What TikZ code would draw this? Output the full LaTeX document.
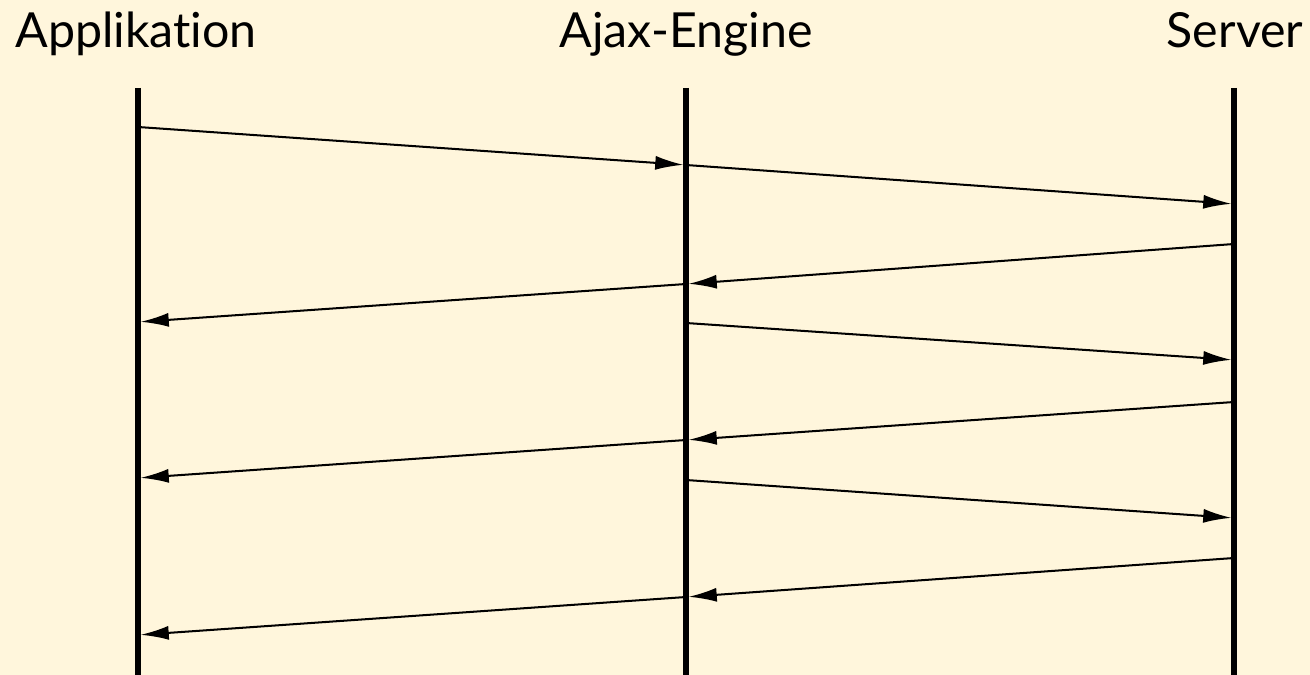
\documentclass[tikz,border=0pt]{standalone}
\usepackage{fontspec}
\setmainfont[Ligatures=NoCommon]{Lato}
\usepackage{xcolor}
\usetikzlibrary{arrows.meta}
\usetikzlibrary{positioning}

\definecolor{paper}{RGB}{255,246,220}

\begin{document}
\begin{tikzpicture}[
  x=0.02cm, y=-0.02cm,
  every node/.style={font=\fontsize{27.5}{33}\selectfont, inner sep=0pt},
  lifeline/.style={line width=3pt},
  msg/.style={-{Latex[length=16pt, width=8pt]}, line width=1.15pt, shorten >=1.5pt},
]
% Background
\fill[paper] (0,0) rectangle (1310,675);
\useasboundingbox (0,0) rectangle (1310,675);

% Participants
\node[anchor=base] (app)    at (136,48)  {Applikation};
\node[anchor=base] (engine) at (686,48)  {Ajax-Engine};
\node[anchor=base] (server) at (1235,48) {Server};

% Lifelines
\coordinate (apptop)    at (138,88);
\coordinate (appbot)    at (138,675);
\coordinate (enginetop) at (686,88);
\coordinate (enginebot) at (686,675);
\coordinate (servertop) at (1234,88);
\coordinate (serverbot) at (1234,675);
\draw[lifeline] (apptop) -- (appbot);
\draw[lifeline] (enginetop) -- (enginebot);
\draw[lifeline] (servertop) -- (serverbot);

% Events - Applikation
\coordinate (a1) at (138,127);
\coordinate (a2) at (138,322);
\coordinate (a3) at (138,478);
\coordinate (a4) at (138,635);

% Events - Ajax-Engine
\coordinate (j1) at (686,165);
\coordinate (j2) at (686,284);
\coordinate (j3) at (686,323);
\coordinate (j4) at (686,440);
\coordinate (j5) at (686,480);
\coordinate (j6) at (686,597);

% Events - Server
\coordinate (s1) at (1234,204);
\coordinate (s2) at (1234,244);
\coordinate (s3) at (1234,360);
\coordinate (s4) at (1234,402);
\coordinate (s5) at (1234,518);
\coordinate (s6) at (1234,558);

% Messages
\draw[msg] (a1) -- (j1);
\draw[msg] (j1) -- (s1);
\draw[msg] (s2) -- (j2);
\draw[msg] (j2) -- (a2);
\draw[msg] (j3) -- (s3);
\draw[msg] (s4) -- (j4);
\draw[msg] (j4) -- (a3);
\draw[msg] (j5) -- (s5);
\draw[msg] (s6) -- (j6);
\draw[msg] (j6) -- (a4);

\end{tikzpicture}
\end{document}
